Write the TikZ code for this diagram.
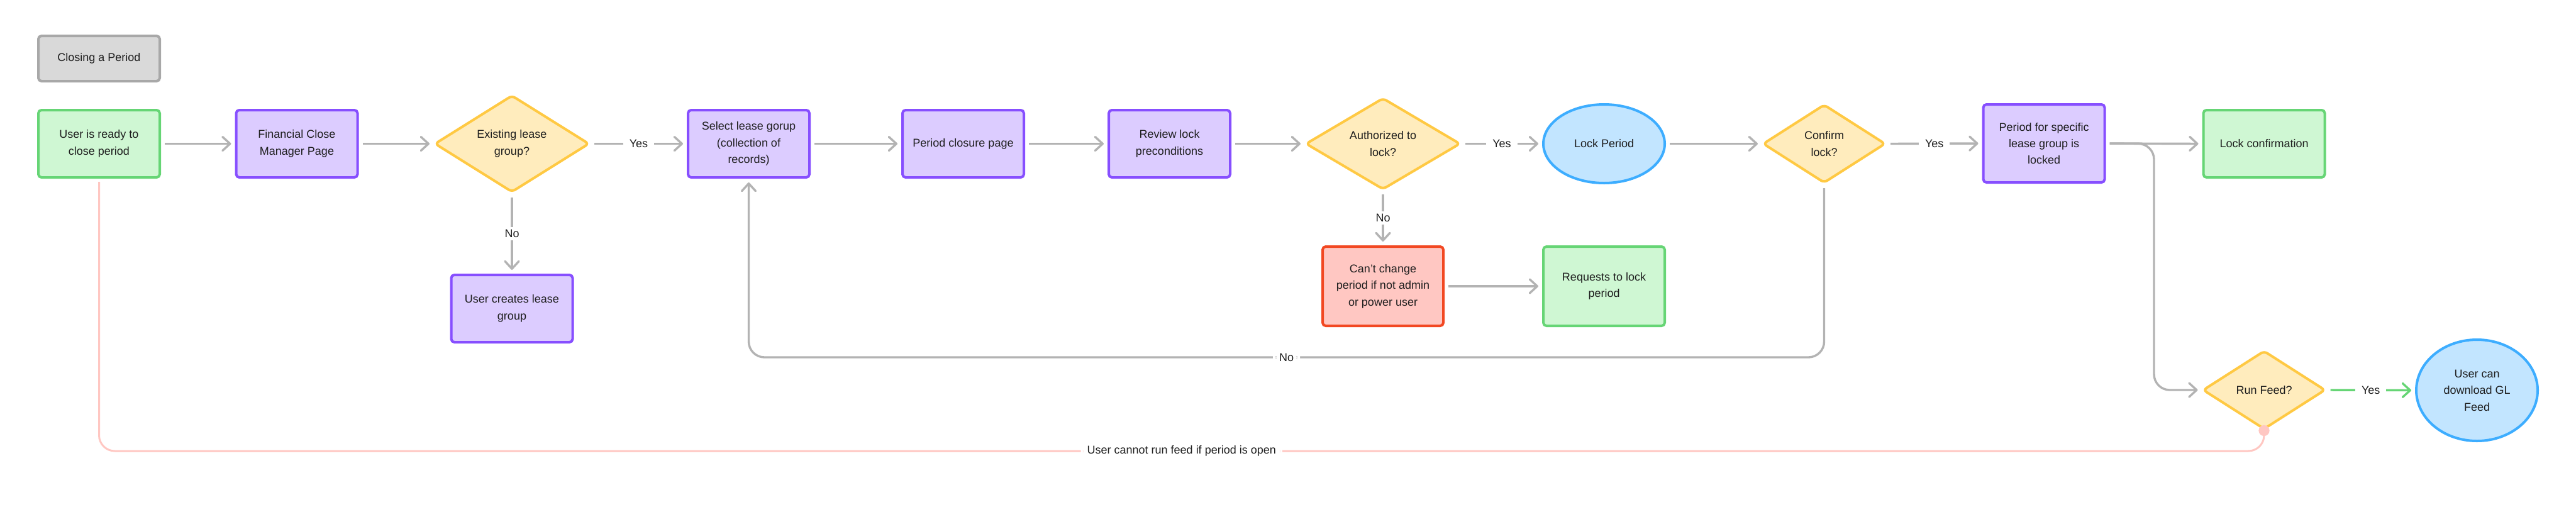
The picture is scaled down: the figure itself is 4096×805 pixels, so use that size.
\documentclass[tikz,border=0pt]{standalone}
\usepackage{fontspec}
\setmainfont{Liberation Sans}
\usetikzlibrary{shapes.geometric,arrows.meta,calc}
\definecolor{txt}{HTML}{1E1E1E}
\definecolor{grayfill}{HTML}{D9D9D9}
\definecolor{grayline}{HTML}{A8A8A8}
\definecolor{greenfill}{HTML}{CFF7D3}
\definecolor{greenline}{HTML}{66D575}
\definecolor{purpfill}{HTML}{DCCCFF}
\definecolor{purpline}{HTML}{874FFF}
\definecolor{yelfill}{HTML}{FFECBD}
\definecolor{yelline}{HTML}{FFC943}
\definecolor{redfill}{HTML}{FFC7C2}
\definecolor{redline}{HTML}{F24822}
\definecolor{bluefill}{HTML}{C2E5FF}
\definecolor{blueline}{HTML}{3DADFF}
\definecolor{conngray}{HTML}{B3B3B3}
\definecolor{connpink}{HTML}{FFC7C2}
\newcommand\myfs{\fontsize{9}{13.2}\selectfont}
\tikzset{
  basebox/.style={draw, line width=2pt, rounded corners=2.5pt, align=center, text=txt, font=\myfs, inner sep=2pt},
  titlebox/.style={basebox, fill=grayfill, draw=grayline, minimum width=96.5pt, minimum height=36pt},
  greenbox/.style={basebox, fill=greenfill, draw=greenline, minimum width=96.5pt, minimum height=53.5pt},
  purpbox/.style={basebox, fill=purpfill, draw=purpline, minimum width=96.5pt, minimum height=53.5pt},
  redbox/.style={basebox, fill=redfill, draw=redline, minimum width=96pt, minimum height=63pt},
  decision/.style={basebox, diamond, fill=yelfill, draw=yelline, rounded corners=3pt, inner sep=0pt},
  roundnode/.style={basebox, ellipse, fill=bluefill, draw=blueline, minimum width=96.5pt},
  conn/.style={draw=conngray, line width=1.7pt, shorten >=3pt, shorten <=3pt,
    -{Straight Barb[length=6pt,width=11pt,round]}},
  greenconn/.style={conn, draw=greenline},
  pinkconn/.style={draw=connpink, line width=1.5pt, shorten <=2.5pt},
  lbl/.style={fill=white, text=txt, font=\myfs, inner xsep=5pt, inner ysep=2pt}
}
\begin{document}
\begin{tikzpicture}[x=0.5pt,y=-0.5pt]
\useasboundingbox (0,0) rectangle (4096,805);
\fill[white] (0,0) rectangle (4096,805);

% nodes
\node[titlebox] (title) at (157.5,93) {Closing a Period};
\node[greenbox] (start) at (157.5,228.5) {User is ready to\\close period};
\node[purpbox] (fc) at (472,228.5) {Financial Close\\Manager Page};
\node[decision, minimum width=123pt, minimum height=62.5pt] (elg) at (814,228.5) {Existing lease\\group?};
\node[purpbox] (ulg) at (814,490.5) {User creates lease\\group};
\node[purpbox] (slg) at (1190.5,228.5) {Select lease gorup\\(collection of\\records)};
\node[purpbox] (pcp) at (1531.5,228.5) {Period closure page};
\node[purpbox] (rlp) at (1859.5,228.5) {Review lock\\preconditions};
\node[decision, minimum width=123pt, minimum height=62.5pt] (auth) at (2199,228.5) {Authorized to\\lock?};
\node[redbox] (cant) at (2199,455) {Can’t change\\period if not admin\\or power user};
\node[greenbox, minimum height=63pt] (req) at (2550.5,455) {Requests to lock\\period};
\node[roundnode, minimum height=62.5pt] (lockp) at (2550.5,228.5) {Lock Period};
\node[decision, minimum width=97.5pt, minimum height=62.5pt] (conf) at (2900.5,228.5) {Confirm\\lock?};
\node[purpbox, minimum height=62pt] (pfs) at (3250,228) {Period for specific\\lease group is\\locked};
\node[greenbox] (lc) at (3600,228.5) {Lock confirmation};
\node[decision, minimum width=97.5pt, minimum height=62.5pt] (rf) at (3600,620) {Run Feed?};
\node[roundnode, minimum height=80.5pt] (ucd) at (3938.5,620.5) {User can\\download GL\\Feed};

% helper coordinates
\coordinate (nolevel) at (0,568);
\coordinate (pinklevel) at (0,717);
\coordinate (branch) at (3425,228.5);

% connectors
\draw[conn] (start.east) -- (fc.west);
\draw[conn] (fc.east) -- (elg.west);
\draw[conn] (elg.east) -- node[lbl]{Yes} (slg.west);
\draw[conn] (elg.south) -- node[lbl]{No} (ulg.north);
\draw[conn] (slg.east) -- (pcp.west);
\draw[conn] (pcp.east) -- (rlp.west);
\draw[conn] (rlp.east) -- (auth.west);
\draw[conn] (auth.east) -- node[lbl]{Yes} (lockp.west);
\draw[conn] (auth.south) -- node[lbl]{No} (cant.north);
\draw[conn] (cant.east) -- (req.west);
\draw[conn] (lockp.east) -- (conf.west);
\draw[conn] (conf.east) -- node[lbl]{Yes} (pfs.west);
\draw[conn, rounded corners=12.5pt] (conf.south) -- (conf.south |- nolevel)
   -- node[lbl]{No} (slg.south |- nolevel) -- (slg.south);
\draw[conn] (pfs.east) -- (lc.west);
\draw[conn, rounded corners=12.5pt] (pfs.east) -- (branch) -- (branch |- rf.west) -- (rf.west);
\draw[greenconn] (rf.east) -- node[lbl]{Yes} (ucd.west);
\draw[pinkconn, rounded corners=12.5pt] (start.south) -- (start.south |- pinklevel)
   -- node[lbl]{User cannot run feed if period is open} (rf.south |- pinklevel) -- (rf.south);
\fill[connpink] (rf.south) circle (4.3pt);
\end{tikzpicture}
\end{document}
